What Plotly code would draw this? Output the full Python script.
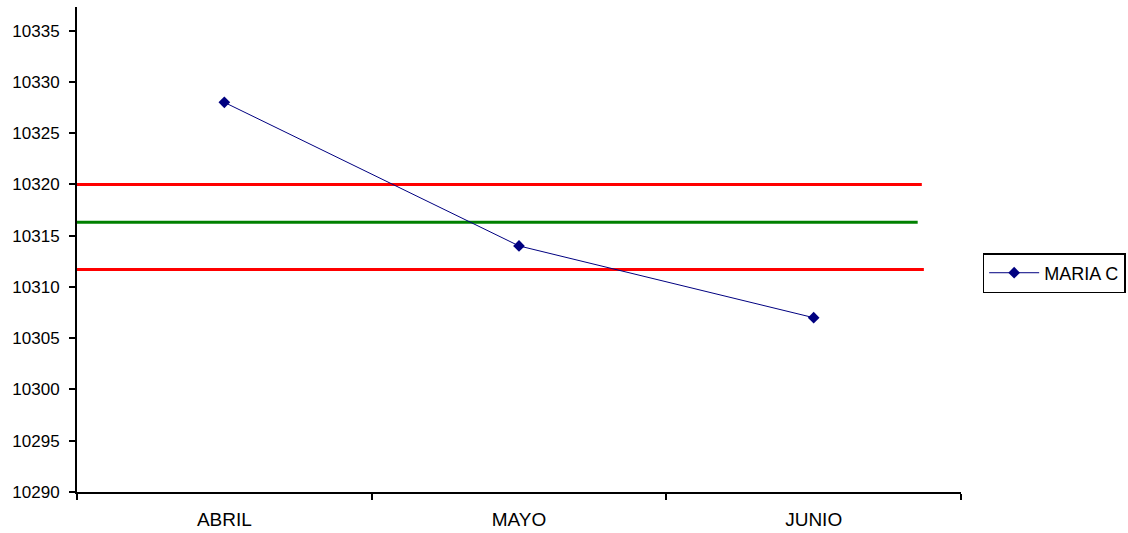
import plotly.graph_objects as go

categories = ["ABRIL", "MAYO", "JUNIO"]
maria_c = [10328, 10314, 10307]
series_name = "MARIA C"

upper_limit = 10320
mean_line = 10316.3
lower_limit = 10311.7

y_ticks = [10290, 10295, 10300, 10305, 10310, 10315, 10320, 10325, 10330, 10335]

fig = go.Figure()

fig.add_trace(go.Scatter(
    x=categories, y=maria_c, name=series_name, mode="lines+markers",
    line=dict(color="#000080", width=1),
    marker=dict(symbol="diamond", size=9, color="#000080"),
))

# horizontal reference lines (x in category-index units)
ref_lines = [
    (upper_limit, "#ff0000", 2.367),
    (mean_line, "#008000", 2.353),
    (lower_limit, "#ff0000", 2.374),
]
for yv, col, xend in ref_lines:
    fig.add_shape(type="line", xref="x", yref="y", x0=-0.5, x1=xend, y0=yv, y1=yv,
                  line=dict(color=col, width=3), layer="below")

fig.update_layout(
    width=1128, height=533,
    margin=dict(l=77, r=167, t=7, b=41, autoexpand=False),
    paper_bgcolor="white", plot_bgcolor="white",
    font=dict(family="Liberation Sans, Arial, sans-serif", size=15, color="#000000"),
    showlegend=True,
    legend=dict(x=1.0245, y=0.4515, xanchor="left", yanchor="middle",
                bordercolor="#000000", borderwidth=1.5, bgcolor="white",
                font=dict(size=18), itemwidth=50),
)
fig.update_xaxes(
    type="category", range=[-0.5, 2.5], showgrid=False, zeroline=False,
    showline=True, linecolor="#000000", linewidth=2,
    ticks="outside", tickson="boundaries", ticklen=6, tickcolor="#000000", tickwidth=1.5,
    tickfont=dict(size=19), fixedrange=True, automargin=False, ticklabelstandoff=9,
)
fig.update_yaxes(
    range=[10290, 10337.3], tickvals=y_ticks, showgrid=False, zeroline=False,
    showline=True, linecolor="#000000", linewidth=2,
    ticks="outside", ticklen=6, tickcolor="#000000", tickwidth=1.5,
    tickfont=dict(size=17), tickformat="d", automargin=False, ticklabelstandoff=6,
    fixedrange=True,
)

fig.write_html("out.html", config={"displayModeBar": False},
               post_script="document.body.style.margin='0';document.body.style.overflow='hidden';")
